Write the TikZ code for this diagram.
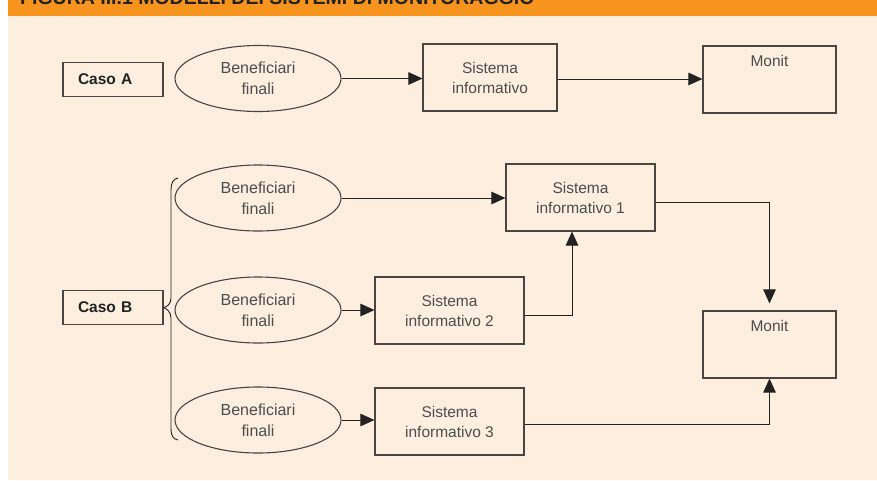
\documentclass[tikz,border=0pt]{standalone}
\usepackage{fontspec}
\setmainfont{Liberation Sans}
\usetikzlibrary{shapes.geometric,arrows.meta}
\definecolor{banner}{HTML}{F7941D}
\definecolor{panel}{HTML}{FDEFE0}
\definecolor{edge}{HTML}{4A4444}
\definecolor{txt}{HTML}{4D4D4D}
\definecolor{dark}{HTML}{222222}
\tikzset{
  box/.style={draw=edge, line width=1.1pt, rectangle, inner sep=0pt},
  casebox/.style={box, minimum height=34pt, text width=70pt, align=left, inner xsep=15pt,
    font=\fontsize{15.5}{18}\selectfont\bfseries, text=dark},
  sysbox/.style={box, minimum width=149pt, minimum height=67pt, align=center,
    font=\fontsize{15.5}{20}\selectfont, text=txt},
  monbox/.style={box, minimum width=133pt, minimum height=67pt},
  benef/.style={draw=edge, line width=1.1pt, ellipse, inner sep=0pt, minimum width=166pt,
    minimum height=66pt, align=center, font=\fontsize{16}{21}\selectfont, text=txt},
  conn/.style={draw=dark, line width=0.9pt, -{Triangle[length=14pt,width=12.5pt]}},
  brace/.style={draw=dark, line width=0.9pt}
}
\begin{document}
\begin{tikzpicture}[x=1pt,y=-1pt]
\useasboundingbox (0,0) rectangle (877,480);
\fill[white] (0,0) rectangle (877,480);
\fill[panel] (8,16) rectangle (877,480);
\begin{scope}
\clip (8,0) rectangle (877,16);
\fill[banner] (8,0) rectangle (877,16);
\node[anchor=base west, inner sep=0pt, font=\fontsize{19.5}{22}\selectfont\bfseries, text=dark] (title) at (20,4) {FIGURA III.1 MODELLI DEI SISTEMI DI MONITORAGGIO};
\end{scope}

% Caso A
\node[casebox] (cA) at (113,79.5) {Caso A};
\node[benef] (eA) at (258,78.5) {Beneficiari\\finali};
\node[sysbox, minimum width=134pt] (sA) at (490,77.5) {Sistema\\informativo};
\node[monbox, label={[anchor=center, yshift=-16pt, font=\fontsize{15.5}{18}\selectfont, text=txt]north:Monit}] (mA) at (769.5,79.5) {};
\draw[conn] (eA.east) -- (eA.east -| sA.west);
\draw[conn] ([yshift=-1.5pt]sA.east) -- ([yshift=-1.5pt]sA.east -| mA.west);

% Caso B
\node[casebox] (cB) at (113,307.5) {Caso B};
\node[benef] (e1) at (258,198) {Beneficiari\\finali};
\node[benef] (e2) at (258,310) {Beneficiari\\finali};
\node[benef] (e3) at (258,420) {Beneficiari\\finali};
\node[sysbox] (s1) at (580.5,197.5) {Sistema\\informativo 1};
\node[sysbox] (s2) at (449.5,310.5) {Sistema\\informativo 2};
\node[sysbox] (s3) at (449.5,421.5) {Sistema\\informativo 3};
\node[monbox, label={[anchor=center, yshift=-16pt, font=\fontsize{15.5}{18}\selectfont, text=txt]north:Monit}] (mB) at (769.5,344.5) {};

\draw[brace] (cB.east) .. controls (167,307) and (171,304) .. (171,298)
  -- (171,190) .. controls (171,183) and (173,179) .. (178,178);
\draw[brace] (cB.east) .. controls (167,309) and (171,312) .. (171,318)
  -- (171,428) .. controls (171,436) and (173,439) .. (178,440);

\draw[conn] (e1.east) -- (e1.east -| s1.west);
\draw[conn] (e2.east) -- (e2.east -| s2.west);
\draw[conn] (e3.east) -- (e3.east -| s3.west);
\draw[conn, shorten >=7pt] ([yshift=-4.5pt]s1.east) -| (mB.north);
\draw[conn] ([yshift=-4.5pt]s2.east) -| ([xshift=-8.5pt]s1.south);
\draw[conn] ([yshift=-2.5pt]s3.east) -| (mB.south);
\end{tikzpicture}
\end{document}
